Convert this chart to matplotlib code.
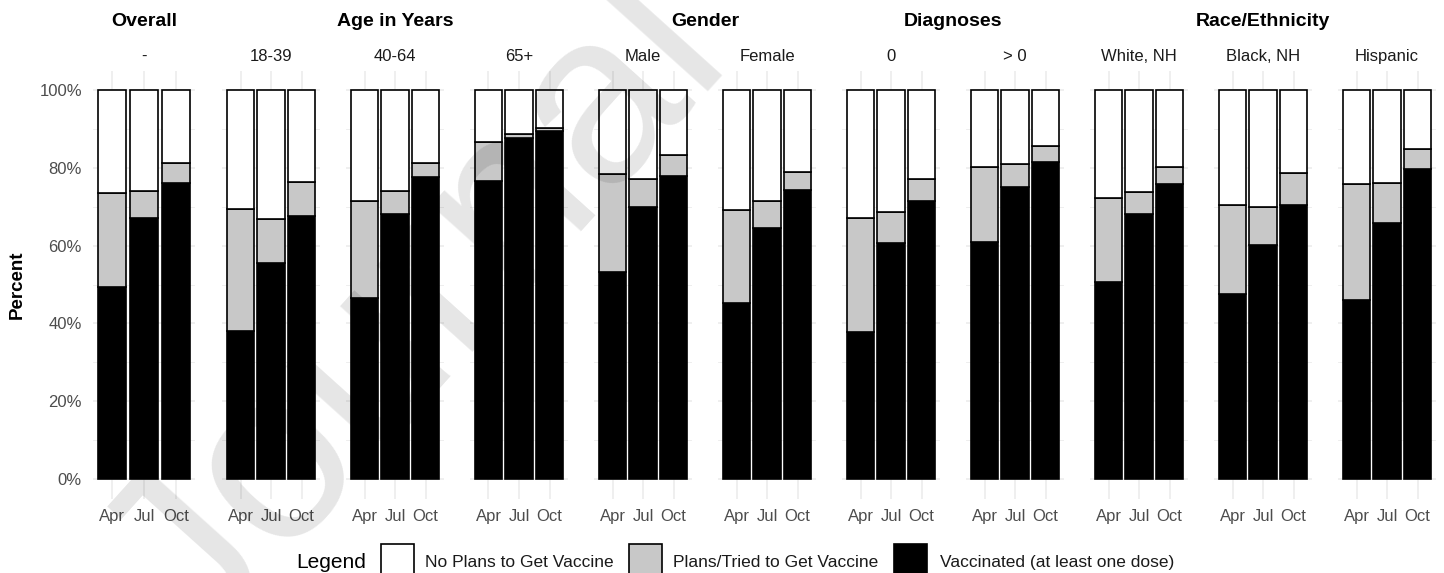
import matplotlib

matplotlib.use("Agg")
import matplotlib.pyplot as plt
import numpy as np
from matplotlib.patches import Rectangle
from matplotlib.ticker import FuncFormatter, MultipleLocator

months = ["Apr", "Jul", "Oct"]
subgroups = ["-", "18-39", "40-64", "65+", "Male", "Female", "0", "> 0",
             "White, NH", "Black, NH", "Hispanic"]
group_titles = ["Overall", "Age in Years", "Gender", "Diagnoses", "Race/Ethnicity"]
group_sizes = [1, 3, 2, 2, 3]

# percent vaccinated (at least one dose), Apr / Jul / Oct
vaccinated = np.array([
    [49.3, 67.0, 76.2],
    [38.1, 55.6, 67.6],
    [46.6, 68.0, 77.6],
    [76.6, 87.7, 89.5],
    [53.3, 69.8, 78.0],
    [45.2, 64.6, 74.3],
    [37.7, 60.7, 71.5],
    [60.8, 75.0, 81.6],
    [50.6, 68.0, 75.8],
    [47.5, 60.2, 70.5],
    [46.0, 65.9, 79.6],
])
# percent planning / tried to get vaccinated
plans_tried = np.array([
    [24.3, 7.1, 5.0],
    [31.2, 11.2, 8.7],
    [24.8, 6.1, 3.6],
    [10.0, 1.0, 0.8],
    [25.0, 7.3, 5.2],
    [24.0, 6.9, 4.7],
    [29.5, 7.9, 5.6],
    [19.5, 6.0, 4.1],
    [21.7, 5.8, 4.4],
    [23.0, 9.7, 8.1],
    [29.8, 10.3, 5.3],
])
no_plans = 100 - vaccinated - plans_tried

legend_labels = ["No Plans to Get Vaccine", "Plans/Tried to Get Vaccine",
                 "Vaccinated (at least one dose)"]
fill_colors = ["white", "#c8c8c8", "black"]

W, H = 1444, 573
PANEL_TOP, PANEL_BOTTOM = 70.5, 498.5
GRID = "#ebebeb"
TICK_GREY = "#4d4d4d"


def setup_fonts():
    plt.rcParams["font.family"] = ["Liberation Sans", "DejaVu Sans"]


def px_axes(fig, x0, x1, y0, y1):
    return fig.add_axes([x0 / W, 1 - y1 / H, (x1 - x0) / W, (y1 - y0) / H])


def panel_layout():
    # (center of Jul bar, pixels per bar slot)
    spans = [(144, 32.0)]
    for k in range(1, len(subgroups)):
        spans.append((271 + 124 * (k - 1), 30.5))
    return spans


def draw_panel(ax, i, first):
    x = np.arange(len(months))
    bottoms = [np.zeros(3), vaccinated[i], vaccinated[i] + plans_tried[i]]
    heights = [vaccinated[i], plans_tried[i], no_plans[i]]
    colors = ["black", "#c8c8c8", "white"]
    for h, b, c in zip(heights, bottoms, colors):
        ax.bar(x, h, 0.9, bottom=b, color=c, edgecolor="black", linewidth=1.2, zorder=3)
    ax.set_xlim(-0.6, 2.6)
    ax.set_ylim(-5, 105)
    ax.set_xticks(x)
    ax.set_xticklabels(months)
    ax.yaxis.set_major_locator(MultipleLocator(20))
    ax.yaxis.set_minor_locator(MultipleLocator(10))
    ax.yaxis.set_major_formatter(FuncFormatter(lambda v, _: f"{int(v)}%"))
    ax.grid(which="major", color=GRID, linewidth=1.1, zorder=0)
    ax.grid(which="minor", axis="y", color=GRID, linewidth=0.6, zorder=0)
    ax.set_axisbelow(True)
    for s in ax.spines.values():
        s.set_visible(False)
    ax.tick_params(axis="both", which="both", length=0, labelsize=12, labelcolor=TICK_GREY)
    ax.tick_params(axis="x", pad=7.5)
    ax.tick_params(axis="y", pad=7.8, labelleft=first)


def main():
    setup_fonts()
    fig = plt.figure(figsize=(W / 100, H / 100), dpi=100)

    spans = panel_layout()
    for i, (c, unit) in enumerate(spans):
        x0 = c - 1.6 * unit
        x1 = c + 1.6 * unit
        ax = px_axes(fig, x0, x1, PANEL_TOP, PANEL_BOTTOM)
        draw_panel(ax, i, i == 0)
        fig.text(c / W, 1 - 61 / H, subgroups[i], ha="center", va="baseline",
                 fontsize=12, color="#1a1a1a")

    # group headers centred over the panels they cover
    start = 0
    for title, n in zip(group_titles, group_sizes):
        centers = [spans[j][0] for j in range(start, start + n)]
        fig.text(np.mean(centers) / W, 1 - 25.7 / H, title, ha="center", va="baseline",
                 fontsize=14, fontweight="bold", color="black")
        start += n

    fig.text(17 / W, 1 - 284.5 / H, "Percent", rotation=90, ha="center", va="center",
             fontsize=13.5, fontweight="bold")

    # legend along the bottom
    fig.text(296 / W, 1 - 568 / H, "Legend", ha="left", va="baseline", fontsize=15)
    box_x = [381, 629, 894]
    label_x = [425, 673, 940]
    for bx, lx, lab, fc in zip(box_x, label_x, legend_labels, fill_colors):
        fig.add_artist(Rectangle((bx / W, 1 - 577 / H), 33 / W, 33 / H,
                                 transform=fig.transFigure, facecolor=fc,
                                 edgecolor="black", linewidth=1.2))
        fig.text(lx / W, 1 - 567 / H, lab, ha="left", va="baseline", fontsize=12.5,
                 color="#1a1a1a")

    # faint diagonal watermark
    fig.text(200 / W, 1 - 655 / H, "Journal Pre-proof", rotation=48,
             rotation_mode="anchor", ha="left", va="baseline", fontsize=175,
             color="black", alpha=0.1, zorder=20)

    fig.savefig("out.png", dpi=100)
    plt.close(fig)


if __name__ == "__main__":
    main()
